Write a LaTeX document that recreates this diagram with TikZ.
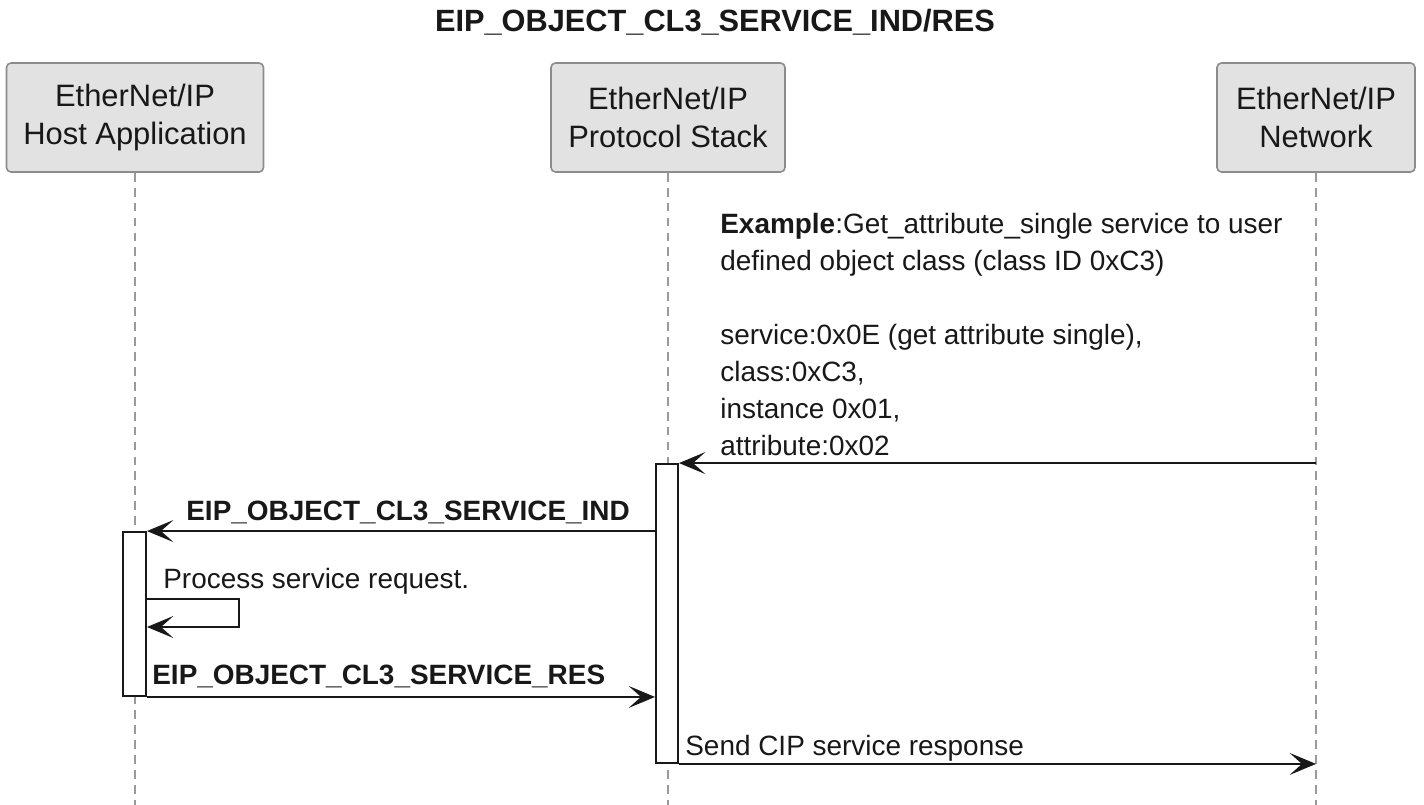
\documentclass[tikz,border=0pt]{standalone}
\usepackage{fontspec}
\setmainfont{Liberation Sans}
\usepackage{tikz}
\usetikzlibrary{arrows.meta}
\definecolor{boxfill}{HTML}{E2E2E2}
\definecolor{boxline}{HTML}{8C8C8C}
\definecolor{ink}{HTML}{181818}
\definecolor{lifegray}{HTML}{9A9A9A}
\tikzset{
  party/.style={draw=boxline, fill=boxfill, line width=0.9pt, rounded corners=2.5pt, align=center, inner sep=0pt, minimum height=2.18cm, text=ink, font=\fontsize{17.6}{22.1}\selectfont},
  lifeline/.style={draw=lifegray, line width=0.9pt, dash pattern=on 5pt off 3.5pt},
  actbar/.style={draw=ink, fill=white, line width=1.1pt, inner sep=0pt, minimum width=0.44cm},
  msg/.style={draw=ink, line width=1.1pt, -{Stealth[length=15pt, width=12.5pt, inset=7pt]}},
  msgtext/.style={anchor=base west, inner sep=0pt, text=ink, font=\fontsize{15.9}{21}\selectfont},
}

\begin{document}
\begin{tikzpicture}[x=0.02cm, y=-0.02cm]
			%%%%% START %%%%%
			\useasboundingbox (0,0) rectangle (1424,805);
			
			\node[font=\bfseries\fontsize{17.5}{21}\selectfont, text=ink] (title) at (715,22) {EIP\_OBJECT\_CL3\_SERVICE\_IND/RES};
			
			\node[party, minimum width=5.14cm] (host) at (135,117.5) {EtherNet/IP\\Host Application};
			\node[party, minimum width=4.68cm] (stack) at (668,117.5) {EtherNet/IP\\Protocol Stack};
			\node[party, minimum width=3.96cm] (net) at (1316,117.5) {EtherNet/IP\\Network};
			
			\coordinate (hostBot) at (135,805);
			\coordinate (stackBot) at (668,805);
			\coordinate (netBot) at (1316,805);
			\draw[lifeline] (host) -- (hostBot);
			\draw[lifeline] (stack) -- (stackBot);
			\draw[lifeline] (net) -- (netBot);
			
			\node[actbar, minimum height=5.98cm] (actStack) at (667,613.5) {};
			\node[actbar, minimum width=0.46cm, minimum height=3.28cm] (actHost) at (134.5,614) {};
			
			% request from the network
			\node[msgtext, align=left] (note) at (720,455) {\textbf{Example}:Get\_attribute\_single service to user\\defined object class (class ID 0xC3)\\[21pt]service:0x0E (get attribute single),\\class:0xC3,\\instance 0x01,\\attribute:0x02};
			\draw[msg] (netBot |- actStack.north east) -- (actStack.north east);
			
			\node[msgtext, font=\bfseries\fontsize{15.9}{21}\selectfont] (lblInd) at (186,520) {EIP\_OBJECT\_CL3\_SERVICE\_IND};
			\draw[msg] (actStack.west |- actHost.north east) -- (actHost.north east);
			
			\coordinate (loopTop) at (239,599);
			\coordinate (loopBot) at (239,627);
			\node[msgtext] (lblProc) at (163,588) {Process service request.};
			\draw[msg] (actHost.east |- loopTop) -- (loopTop) -- (loopBot) -- (actHost.east |- loopBot);
			
			\node[msgtext, font=\bfseries\fontsize{15.9}{21}\selectfont] (lblRes) at (152,684) {EIP\_OBJECT\_CL3\_SERVICE\_RES};
			\draw[msg] (actHost.south east) -- (actStack.west |- actHost.south east);
			
			\node[msgtext] (lblSend) at (685,755) {Send CIP service response};
			\draw[msg] (actStack.south east) -- (netBot |- actStack.south east);
			
			%%%%% END %%%%%
\end{tikzpicture}
\end{document}
